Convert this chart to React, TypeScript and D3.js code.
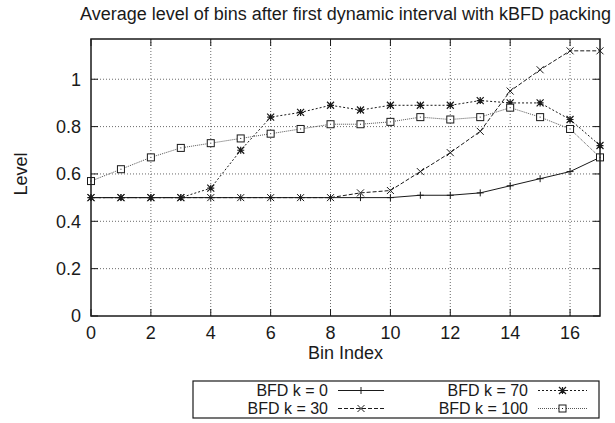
import React from "react";
import * as d3 from "d3";

// bin index 0..17
const bins = [0, 1, 2, 3, 4, 5, 6, 7, 8, 9, 10, 11, 12, 13, 14, 15, 16, 17];

const k0 = [0.5, 0.5, 0.5, 0.5, 0.5, 0.5, 0.5, 0.5, 0.5, 0.5, 0.5, 0.51, 0.51, 0.52, 0.55, 0.58, 0.61, 0.67];
const k30 = [0.5, 0.5, 0.5, 0.5, 0.5, 0.5, 0.5, 0.5, 0.5, 0.52, 0.53, 0.61, 0.69, 0.78, 0.95, 1.04, 1.12, 1.12];
const k70 = [0.5, 0.5, 0.5, 0.5, 0.54, 0.7, 0.84, 0.86, 0.89, 0.87, 0.89, 0.89, 0.89, 0.91, 0.9, 0.9, 0.83, 0.72];
const k100 = [0.57, 0.62, 0.67, 0.71, 0.73, 0.75, 0.77, 0.79, 0.81, 0.81, 0.82, 0.84, 0.83, 0.84, 0.88, 0.84, 0.79, 0.67];

const seriesNames = ["BFD k = 0", "BFD k = 30", "BFD k = 70", "BFD k = 100"];
const xTicks = [0, 2, 4, 6, 8, 10, 12, 14, 16];
const yTicks = [0, 0.2, 0.4, 0.6, 0.8, 1];

const W = 615;
const H = 423;
const left = 91;
const right = 600;
const top = 39;
const bottom = 316;
const font = "'Liberation Sans', Arial, sans-serif";
const fs = 18;
const ink = "#1a1a1a";

type Kind = "plus" | "cross" | "star" | "square";

const styles: { kind: Kind; dash: string; color: string }[] = [
  { kind: "plus", dash: "none", color: ink },
  { kind: "cross", dash: "4,2", color: ink },
  { kind: "star", dash: "2,2", color: ink },
  { kind: "square", dash: "1,1", color: "#555" },
];

function marker(kind: Kind, x: number, y: number, key: string, color: string) {
  const s = 3.5;
  if (kind === "plus") {
    return <path key={key} d={`M${x - s},${y}H${x + s}M${x},${y - s}V${y + s}`} stroke={color} strokeWidth={1} />;
  }
  if (kind === "cross") {
    return (
      <path key={key} d={`M${x - s},${y - s}L${x + s},${y + s}M${x - s},${y + s}L${x + s},${y - s}`} stroke={color} strokeWidth={1} />
    );
  }
  if (kind === "star") {
    return (
      <path
        key={key}
        d={`M${x - s},${y}H${x + s}M${x},${y - s}V${y + s}M${x - s},${y - s}L${x + s},${y + s}M${x - s},${y + s}L${x + s},${y - s}`}
        stroke={color}
        strokeWidth={1.2}
      />
    );
  }
  return (
    <g key={key}>
      <rect x={x - s} y={y - s} width={2 * s} height={2 * s} fill="white" stroke={ink} strokeWidth={1} />
      <rect x={x - 0.5} y={y - 0.5} width={1} height={1} fill={ink} />
    </g>
  );
}

export default function App() {
  const x = d3.scaleLinear().domain([0, 17]).range([left, right]);
  const y = d3.scaleLinear().domain([0, 1.17]).range([bottom, top]);
  const data = [k0, k30, k70, k100];
  const line = d3
    .line<number>()
    .x((_, i) => x(bins[i]))
    .y((d) => y(d));

  const legendRows = [
    { col: 0, row: 0, idx: 0 },
    { col: 0, row: 1, idx: 1 },
    { col: 1, row: 0, idx: 2 },
    { col: 1, row: 1, idx: 3 },
  ];
  const textRight = [328, 528];
  const sampleX = [
    [338, 384],
    [538, 587],
  ];
  const rowY = [390.5, 408.5];

  return (
    <svg
      width={W}
      height={H}
      style={{ position: "absolute", left: 0, top: 0, background: "white" }}
      fontFamily={font}
    >
      <rect width={W} height={H} fill="white" />
      <text x={(left + right) / 2} y={20} textAnchor="middle" fontSize={fs} fill={ink}>
        Average level of bins after first dynamic interval with kBFD packing
      </text>

      {/* grid */}
      {yTicks
        .filter((t) => t > 0)
        .map((t) => (
          <line key={"gy" + t} x1={left} x2={right} y1={y(t)} y2={y(t)} stroke="#444" strokeWidth={0.8} strokeDasharray="1,2" />
        ))}
      {xTicks
        .filter((t) => t > 0)
        .map((t) => (
          <line key={"gx" + t} x1={x(t)} x2={x(t)} y1={top} y2={bottom} stroke="#444" strokeWidth={0.8} strokeDasharray="1,2" />
        ))}

      {/* ticks, mirrored on all sides */}
      {yTicks.map((t) => (
        <g key={"ty" + t}>
          <line x1={left} x2={left + 7} y1={y(t)} y2={y(t)} stroke={ink} />
          <line x1={right - 7} x2={right} y1={y(t)} y2={y(t)} stroke={ink} />
          <text x={81} y={y(t)} dy="0.35em" textAnchor="end" fontSize={fs} fill={ink}>
            {d3.format("~g")(t)}
          </text>
        </g>
      ))}
      {xTicks.map((t) => (
        <g key={"tx" + t}>
          <line x1={x(t)} x2={x(t)} y1={bottom} y2={bottom - 7} stroke={ink} />
          <line x1={x(t)} x2={x(t)} y1={top} y2={top + 7} stroke={ink} />
          <text x={x(t)} y={339} textAnchor="middle" fontSize={fs} fill={ink}>
            {t}
          </text>
        </g>
      ))}

      {/* series */}
      {data.map((vals, si) => (
        <g key={"s" + si}>
          <path d={line(vals) ?? ""} fill="none" stroke={styles[si].color} strokeWidth={1} strokeDasharray={styles[si].dash} />
          {vals.map((v, i) => marker(styles[si].kind, x(bins[i]), y(v), `m${si}-${i}`, styles[si].color))}
        </g>
      ))}

      <rect x={left} y={top} width={right - left} height={bottom - top} fill="none" stroke={ink} strokeWidth={1.5} />

      <text x={(left + right) / 2} y={359} textAnchor="middle" fontSize={fs} fill={ink}>
        Bin Index
      </text>
      <text transform={`translate(27,174) rotate(-90)`} textAnchor="middle" fontSize={fs} fill={ink}>
        Level
      </text>

      {/* legend */}
      <rect x={193} y={381} width={406} height={37} fill="none" stroke={ink} strokeWidth={1.2} />
      {legendRows.map(({ col, row, idx }) => {
        const yy = rowY[row];
        const [sx0, sx1] = sampleX[col];
        return (
          <g key={"lg" + idx}>
            <text x={textRight[col]} y={yy} dy="0.35em" textAnchor="end" fontSize={16} fill={ink}>
              {seriesNames[idx]}
            </text>
            <line x1={sx0} x2={sx1} y1={yy} y2={yy} stroke={styles[idx].color} strokeDasharray={styles[idx].dash} />
            {marker(styles[idx].kind, (sx0 + sx1) / 2, yy, "lm" + idx, styles[idx].color)}
          </g>
        );
      })}
    </svg>
  );
}
